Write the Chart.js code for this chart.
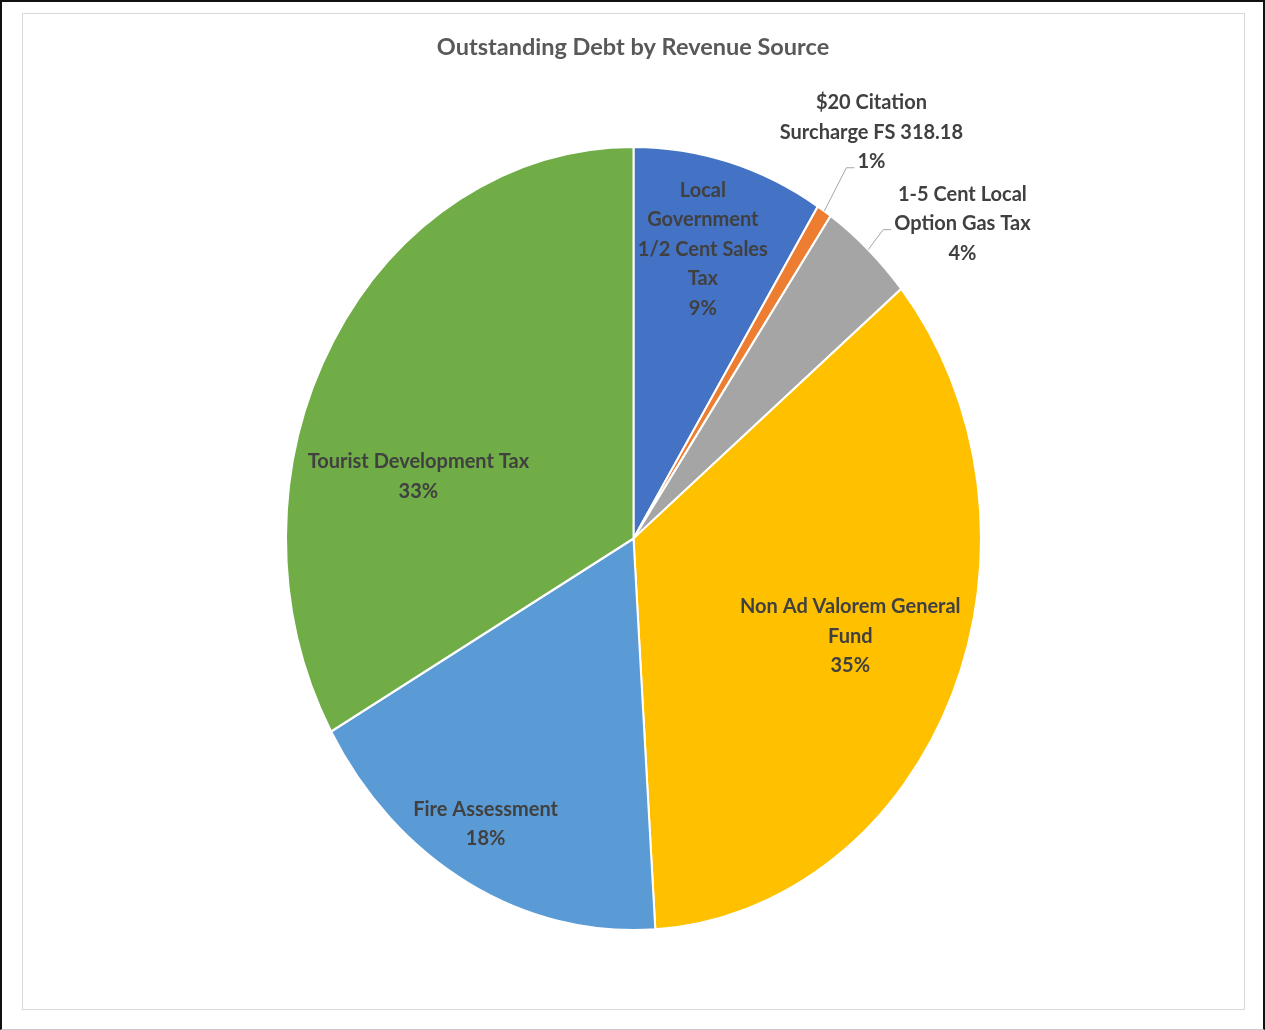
<!DOCTYPE html>
<html>
<head>
<meta charset="utf-8">
<script src="https://cdn.jsdelivr.net/npm/chart.js@4.4.0/dist/chart.umd.min.js"></script>
<style>
  body { margin: 0; background: #fff; }
  #page { position: relative; width: 1265px; height: 1030px; box-sizing: border-box;
          border-left: 2px solid #111; border-top: 2px solid #111; border-right: 2px solid #111;
          border-bottom: 1px solid #c8c8c8; }
  #frame { position: absolute; left: 20px; top: 11px; width: 1223px; height: 997px;
           box-sizing: border-box; border: 1px solid #d9d9d9; }
  #myChart { position: absolute; left: -2px; top: -2px; }
</style>
</head>
<body>
<div id="page">
  <div id="frame"></div>
  <canvas id="myChart" width="1265" height="1030"></canvas>
</div>
<script>
const categories = [
  ['Local', 'Government', '1/2 Cent Sales', 'Tax'],
  ['$20 Citation', 'Surcharge FS 318.18'],
  ['1-5 Cent Local', 'Option Gas Tax'],
  ['Non Ad Valorem General', 'Fund'],
  ['Fire Assessment'],
  ['Tourist Development Tax']
];
const shares = [8.9, 0.7, 4.4, 35.0, 17.8, 33.2];
const colors = ['#4472C4', '#ED7D31', '#A5A5A5', '#FFC000', '#5B9BD5', '#70AD47'];

// where each label sits: angle offset from slice middle (deg), radius fraction, line that gets the leader
const labelPlace = [
  { da: -1, r: 0.77 },
  { da: 0, r: 1.247, leader: 2 },
  { da: 7, r: 1.245, leader: 1 },
  { da: -2, r: 0.67 },
  { da: 2, r: 0.84 },
  { da: -15.5, r: 0.64 }
];

const yStretch = 390 / 346;
const labelFont = 'bold 20px Lato';
const lineH = 29.5;

const ellipse = {
  id: 'ellipse',
  beforeDatasetsDraw(chart) {
    const a = chart.getDatasetMeta(0).data[0];
    const ctx = chart.ctx;
    ctx.save();
    ctx.translate(a.x, a.y);
    ctx.scale(1, yStretch);
    ctx.translate(-a.x, -a.y);
  },
  afterDatasetsDraw(chart) {
    chart.ctx.restore();
  }
};

const sliceLabels = {
  id: 'sliceLabels',
  afterDraw(chart) {
    const ctx = chart.ctx;
    const total = shares.reduce((s, v) => s + v, 0);
    ctx.save();
    // title
    ctx.font = 'bold 23.5px Lato';
    ctx.fillStyle = '#595959';
    ctx.textAlign = 'center';
    ctx.textBaseline = 'middle';
    ctx.fillText('Outstanding Debt by Revenue Source', 633, 47);

    ctx.font = labelFont;
    ctx.fillStyle = '#404040';
    chart.getDatasetMeta(0).data.forEach((el, i) => {
      const p = labelPlace[i];
      const mid = (el.startAngle + el.endAngle) / 2;
      const ang = mid + p.da * Math.PI / 180;
      const R = el.outerRadius;
      const cx = el.x + Math.cos(ang) * R * p.r;
      const cy = el.y + Math.sin(ang) * R * p.r * yStretch + 2;
      const lines = categories[i].concat([Math.round(shares[i] / total * 100) + '%']);
      const y0 = cy - (lines.length - 1) * lineH / 2;
      lines.forEach((t, k) => ctx.fillText(t, cx, y0 + k * lineH));
      if (p.leader !== undefined) {
        const sx = el.x + Math.cos(mid) * R;
        const sy = el.y + Math.sin(mid) * R * yStretch;
        const w = ctx.measureText(lines[p.leader]).width;
        const ex = cx - w / 2 - 3;
        const ey = y0 + p.leader * lineH + 6;
        ctx.strokeStyle = '#a6a6a6';
        ctx.lineWidth = 1;
        ctx.beginPath();
        ctx.moveTo(sx, sy);
        ctx.lineTo(ex - 8, ey);
        ctx.lineTo(ex, ey);
        ctx.stroke();
      }
    });
    ctx.restore();
  }
};

new Chart(document.getElementById('myChart'), {
  type: 'pie',
  data: {
    labels: categories.map(c => c.join(' ')),
    datasets: [{
      data: shares,
      backgroundColor: colors,
      borderColor: '#ffffff',
      borderWidth: 2
    }]
  },
  options: {
    responsive: false,
    animation: false,
    layout: { padding: { left: 285, right: 283, top: 190, bottom: 143 } },
    plugins: {
      legend: { display: false },
      tooltip: { enabled: false }
    }
  },
  plugins: [ellipse, sliceLabels]
});
</script>
</body>
</html>
